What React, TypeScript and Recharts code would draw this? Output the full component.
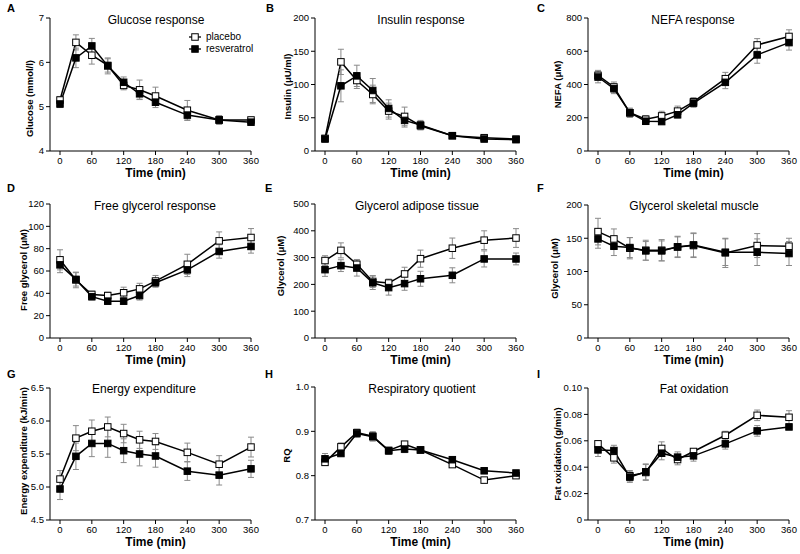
import React from "react";
import { ErrorBar, Label, Legend, Line, LineChart, XAxis, YAxis } from "recharts";

const TIMES = [0, 30, 60, 90, 120, 150, 180, 240, 300, 360];
const TIME_TICKS = [0, 60, 120, 180, 240, 300, 360];

// A – glucose (mmol/l)
const glucosePlacebo = [5.15, 6.45, 6.16, 5.93, 5.48, 5.38, 5.24, 4.92, 4.7, 4.7];
const glucosePlaceboSem = [0.08, 0.17, 0.2, 0.15, 0.1, 0.22, 0.2, 0.22, 0.08, 0.06];
const glucoseResveratrol = [5.06, 6.1, 6.37, 5.92, 5.55, 5.29, 5.1, 4.81, 4.7, 4.65];
const glucoseResveratrolSem = [0.08, 0.22, 0.17, 0.18, 0.12, 0.12, 0.12, 0.12, 0.1, 0.06];

// B – insulin (µU/ml)
const insulinPlacebo = [19, 134, 106, 85, 60, 52, 38, 23, 20, 18];
const insulinPlaceboSem = [3, 19, 12, 14, 12, 14, 6, 3, 3, 3];
const insulinResveratrol = [18, 98, 113, 91, 64, 46, 39, 23, 18, 17];
const insulinResveratrolSem = [3, 24, 16, 18, 13, 10, 7, 3, 3, 3];

// C – NEFA (µM)
const nefaPlacebo = [455, 385, 230, 191, 211, 240, 296, 435, 638, 689];
const nefaPlaceboSem = [30, 30, 28, 22, 28, 30, 25, 38, 38, 40];
const nefaResveratrol = [445, 375, 230, 179, 177, 218, 288, 413, 578, 652];
const nefaResveratrolSem = [35, 30, 25, 20, 15, 20, 25, 38, 50, 45];

// D – free glycerol (µM)
const freeGlycerolPlacebo = [70, 52, 39, 38, 40.5, 44, 51, 66, 87, 90];
const freeGlycerolPlaceboSem = [9, 7, 3, 3, 5, 5, 5, 9, 8, 8];
const freeGlycerolResveratrol = [65.5, 52.5, 37, 33, 33, 38, 49.5, 61, 77.5, 82];
const freeGlycerolResveratrolSem = [7, 6, 3, 3, 3, 4, 4, 6, 6, 6];

// E – glycerol adipose tissue (µM)
const adiposePlacebo = [289, 327, 275, 211, 205, 239, 296, 335, 365, 373];
const adiposePlaceboSem = [18, 28, 18, 22, 15, 25, 32, 38, 35, 35];
const adiposeResveratrol = [255, 270, 261, 206, 188, 203, 221, 234, 295, 295];
const adiposeResveratrolSem = [25, 22, 30, 25, 28, 25, 28, 28, 30, 22];

// F – glycerol skeletal muscle (µM)
const musclePlacebo = [160, 149, 135, 132, 132, 137, 139, 128, 139, 138];
const musclePlaceboSem = [20, 15, 16, 15, 16, 16, 18, 22, 18, 12];
const muscleResveratrol = [149, 138, 136, 131, 131, 137, 140, 129, 129, 127];
const muscleResveratrolSem = [14, 14, 15, 14, 15, 15, 18, 20, 20, 18];

// G – energy expenditure (kJ/min)
const energyPlacebo = [5.12, 5.74, 5.845, 5.91, 5.81, 5.715, 5.69, 5.525, 5.345, 5.605];
const energyPlaceboSem = [0.13, 0.19, 0.17, 0.15, 0.14, 0.13, 0.12, 0.14, 0.13, 0.15];
const energyResveratrol = [4.97, 5.465, 5.66, 5.66, 5.55, 5.5, 5.47, 5.24, 5.18, 5.275];
const energyResveratrolSem = [0.16, 0.2, 0.2, 0.21, 0.18, 0.18, 0.17, 0.14, 0.15, 0.13];

// H – respiratory quotient
const rqPlacebo = [0.83, 0.865, 0.897, 0.889, 0.857, 0.871, 0.858, 0.825, 0.79, 0.8];
const rqPlaceboSem = [0.007, 0.009, 0.008, 0.01, 0.006, 0.005, 0.004, 0.005, 0.004, 0.006];
const rqResveratrol = [0.838, 0.85, 0.895, 0.888, 0.856, 0.86, 0.858, 0.836, 0.811, 0.806];
const rqResveratrolSem = [0.012, 0.005, 0.008, 0.01, 0.008, 0.008, 0.004, 0.006, 0.006, 0.004];

// I – fat oxidation (g/min)
const fatPlacebo = [0.0577, 0.0471, 0.0335, 0.036, 0.0542, 0.0458, 0.0519, 0.0642, 0.0793, 0.0778];
const fatPlaceboSem = [0.002, 0.004, 0.004, 0.006, 0.005, 0.004, 0.002, 0.003, 0.004, 0.005];
const fatResveratrol = [0.0531, 0.0526, 0.0325, 0.0365, 0.0506, 0.0476, 0.0486, 0.0577, 0.0675, 0.0705];
const fatResveratrolSem = [0.005, 0.004, 0.004, 0.006, 0.005, 0.004, 0.004, 0.004, 0.004, 0.002];

const SERIES = [
  { key: "placebo", name: "placebo", fill: "#ffffff" },
  { key: "resveratrol", name: "resveratrol", fill: "#000000" },
];

const FONT = '"Liberation Sans", Arial, Helvetica, sans-serif';
const ERR_COLOR = "#8a8a8a";

const Y_W = 45;
const M_TOP = 12;
const M_RIGHT = 12;
const X_H = 32;
const PLOT_W = 201;
const PAD = 10;
const DOT = 6.5;

type Panel = {
  letter: string;
  title: string;
  yLabel: string;
  domain: [number, number];
  ticks: number[];
  fmt: (v: number) => string;
  placebo: number[];
  placeboSem: number[];
  resveratrol: number[];
  resveratrolSem: number[];
  axisX: number;
  plotTop: number;
  plotH: number;
  titleX: number;
  titleY: number;
  letterX: number;
  letterY: number;
  labelOffset: number;
  labelShift: number;
  legend?: boolean;
};

const int = (v: number) => String(v);
const oneDec = (v: number) => v.toFixed(1);
const twoDec = (v: number) => (v === 0 ? "0" : v.toFixed(2));

const PANELS: Panel[] = [
  {
    letter: "A", title: "Glucose response", yLabel: "Glucose (mmol/l)",
    domain: [4, 7], ticks: [4, 5, 6, 7], fmt: int,
    placebo: glucosePlacebo, placeboSem: glucosePlaceboSem,
    resveratrol: glucoseResveratrol, resveratrolSem: glucoseResveratrolSem,
    axisX: 50, plotTop: 18, plotH: 133, titleX: 156, titleY: 23.5,
    letterX: 7, letterY: 12, labelOffset: 21, labelShift: 14, legend: true,
  },
  {
    letter: "B", title: "Insulin response", yLabel: "Insulin (μU/ml)",
    domain: [0, 200], ticks: [0, 50, 100, 150, 200], fmt: int,
    placebo: insulinPlacebo, placeboSem: insulinPlaceboSem,
    resveratrol: insulinResveratrol, resveratrolSem: insulinResveratrolSem,
    axisX: 315, plotTop: 18, plotH: 133, titleX: 421, titleY: 23.5,
    letterX: 266, letterY: 12, labelOffset: 28, labelShift: 2,
  },
  {
    letter: "C", title: "NEFA response", yLabel: "NEFA (μM)",
    domain: [0, 800], ticks: [0, 200, 400, 600, 800], fmt: int,
    placebo: nefaPlacebo, placeboSem: nefaPlaceboSem,
    resveratrol: nefaResveratrol, resveratrolSem: nefaResveratrolSem,
    axisX: 588, plotTop: 18, plotH: 133, titleX: 693, titleY: 23.5,
    letterX: 537, letterY: 12, labelOffset: 31, labelShift: 0,
  },
  {
    letter: "D", title: "Free glycerol response", yLabel: "Free glycerol (μM)",
    domain: [0, 120], ticks: [0, 20, 40, 60, 80, 100, 120], fmt: int,
    placebo: freeGlycerolPlacebo, placeboSem: freeGlycerolPlaceboSem,
    resveratrol: freeGlycerolResveratrol, resveratrolSem: freeGlycerolResveratrolSem,
    axisX: 50, plotTop: 204, plotH: 134, titleX: 155, titleY: 209.5,
    letterX: 7, letterY: 192, labelOffset: 27, labelShift: -1,
  },
  {
    letter: "E", title: "Glycerol adipose tissue", yLabel: "Glycerol (μM)",
    domain: [0, 500], ticks: [0, 100, 200, 300, 400, 500], fmt: int,
    placebo: adiposePlacebo, placeboSem: adiposePlaceboSem,
    resveratrol: adiposeResveratrol, resveratrolSem: adiposeResveratrolSem,
    axisX: 315, plotTop: 204, plotH: 134, titleX: 417, titleY: 209.5,
    letterX: 265, letterY: 192, labelOffset: 35, labelShift: -5,
  },
  {
    letter: "F", title: "Glycerol skeletal muscle", yLabel: "Glycerol (μM)",
    domain: [0, 200], ticks: [0, 50, 100, 150, 200], fmt: int,
    placebo: musclePlacebo, placeboSem: musclePlaceboSem,
    resveratrol: muscleResveratrol, resveratrolSem: muscleResveratrolSem,
    axisX: 588, plotTop: 205, plotH: 133, titleX: 694, titleY: 209.5,
    letterX: 537, letterY: 192, labelOffset: 34, labelShift: -3,
  },
  {
    letter: "G", title: "Energy expenditure", yLabel: "Energy expenditure (kJ/min)",
    domain: [4.5, 6.5], ticks: [4.5, 5, 5.5, 6, 6.5], fmt: oneDec,
    placebo: energyPlacebo, placeboSem: energyPlaceboSem,
    resveratrol: energyResveratrol, resveratrolSem: energyResveratrolSem,
    axisX: 50, plotTop: 388, plotH: 132, titleX: 144, titleY: 392.5,
    letterX: 7, letterY: 378, labelOffset: 27, labelShift: -3,
  },
  {
    letter: "H", title: "Respiratory quotient", yLabel: "RQ",
    domain: [0.7, 1.0], ticks: [0.7, 0.8, 0.9, 1.0], fmt: oneDec,
    placebo: rqPlacebo, placeboSem: rqPlaceboSem,
    resveratrol: rqResveratrol, resveratrolSem: rqResveratrolSem,
    axisX: 315, plotTop: 387, plotH: 133, titleX: 422, titleY: 392.5,
    letterX: 265, letterY: 378, labelOffset: 29, labelShift: 2,
  },
  {
    letter: "I", title: "Fat oxidation", yLabel: "Fat oxidation (g/min)",
    domain: [0, 0.1], ticks: [0, 0.02, 0.04, 0.06, 0.08, 0.1], fmt: twoDec,
    placebo: fatPlacebo, placeboSem: fatPlaceboSem,
    resveratrol: fatResveratrol, resveratrolSem: fatResveratrolSem,
    axisX: 588, plotTop: 388, plotH: 132, titleX: 694, titleY: 392.5,
    letterX: 537, letterY: 378, labelOffset: 31, labelShift: 0,
  },
];

function squareDot(fill: string) {
  return (props: any) => {
    const { cx, cy, index } = props;
    if (cx == null || cy == null) return <g key={`e-${index}`} />;
    return (
      <rect
        key={`d-${index}`}
        x={cx - DOT / 2}
        y={cy - DOT / 2}
        width={DOT}
        height={DOT}
        fill={fill}
        stroke="#000"
        strokeWidth={1}
      />
    );
  };
}

function yLabelFor(p: Panel) {
  return (props: any) => {
    const vb = props.viewBox || { x: 0, y: 0, width: Y_W, height: p.plotH };
    const x = vb.x + vb.width - p.labelOffset;
    const y = vb.y + vb.height / 2 + p.labelShift;
    return (
      <text
        x={x}
        y={y}
        transform={`rotate(-90, ${x}, ${y})`}
        textAnchor="middle"
        dominantBaseline="central"
        fontSize={9.5}
        fontWeight="bold"
        fill="#000"
      >
        {p.yLabel}
      </text>
    );
  };
}

function timeLabel(props: any) {
  const vb = props.viewBox || { x: Y_W, y: 0, width: PLOT_W, height: X_H };
  const x = vb.x + PAD + (vb.width - PAD) / 2;
  const y = vb.y + 22;
  return (
    <text x={x} y={y} textAnchor="middle" dominantBaseline="central" fontSize={12} fontWeight="bold" fill="#000">
      Time (min)
    </text>
  );
}

function renderLegend() {
  return (
    <div style={{ fontSize: 10, lineHeight: "12px", color: "#000", fontFamily: FONT }}>
      {SERIES.map((s) => (
        <div key={s.key} style={{ display: "flex", alignItems: "center" }}>
          <svg width={13} height={12}>
            <line x1={0} x2={12} y1={6} y2={6} stroke="#000" strokeWidth={1.3} />
            <rect x={2.75} y={2.75} width={DOT} height={DOT} fill={s.fill} stroke="#000" />
          </svg>
          <span style={{ marginLeft: 4 }}>{s.name}</span>
        </div>
      ))}
    </div>
  );
}

function PanelChart({ p }: { p: Panel }) {
  const data = TIMES.map((t, i) => ({
    time: t,
    placebo: p.placebo[i],
    placeboSem: p.placeboSem[i],
    resveratrol: p.resveratrol[i],
    resveratrolSem: p.resveratrolSem[i],
  }));
  const width = Y_W + PLOT_W + M_RIGHT;
  const height = M_TOP + p.plotH + X_H + 2;
  const boxLeft = p.axisX - Y_W;
  const boxTop = p.plotTop - M_TOP;

  return (
    <div style={{ position: "absolute", left: boxLeft, top: boxTop }}>
      <LineChart width={width} height={height} data={data} margin={{ top: M_TOP, right: M_RIGHT, bottom: 2, left: 0 }}>
        <XAxis
          dataKey="time"
          type="number"
          domain={[0, 360]}
          ticks={TIME_TICKS}
          interval={0}
          padding={{ left: PAD, right: 0 }}
          height={X_H}
          tickSize={4}
          tickMargin={2}
          stroke="#000"
          tick={{ fontSize: 9.5, fill: "#000" }}
        >
          <Label content={timeLabel} />
        </XAxis>
        <YAxis
          type="number"
          domain={p.domain}
          ticks={p.ticks}
          interval={0}
          tickFormatter={p.fmt}
          width={Y_W}
          tickSize={4}
          tickMargin={2}
          stroke="#000"
          tick={{ fontSize: 9.5, fill: "#000" }}
        >
          <Label content={yLabelFor(p)} />
        </YAxis>
        {SERIES.map((s) => (
          <Line
            key={s.key}
            dataKey={s.key}
            name={s.name}
            type="linear"
            stroke="#000"
            strokeWidth={1.5}
            dot={squareDot(s.fill)}
            activeDot={false}
            isAnimationActive={false}
          >
            <ErrorBar dataKey={`${s.key}Sem`} direction="y" width={3} stroke={ERR_COLOR} strokeWidth={1} />
          </Line>
        ))}
        {p.legend && (
          <Legend
            layout="vertical"
            align="center"
            verticalAlign="middle"
            content={renderLegend}
            wrapperStyle={{ left: 189 - boxLeft, top: 31 - boxTop, width: 80 }}
          />
        )}
      </LineChart>
    </div>
  );
}

export default function App() {
  return (
    <div
      style={{
        position: "absolute",
        left: 0,
        top: 0,
        width: 800,
        height: 554,
        background: "#fff",
        fontFamily: FONT,
        overflow: "hidden",
      }}
    >
      {PANELS.map((p) => (
        <PanelChart key={p.letter} p={p} />
      ))}
      <svg width={800} height={554} style={{ position: "absolute", left: 0, top: 0, pointerEvents: "none" }}>
        {PANELS.map((p) => (
          <g key={p.letter}>
            <text x={p.letterX} y={p.letterY} fontSize={11} fontWeight="bold" fill="#000">
              {p.letter}
            </text>
            <text x={p.titleX} y={p.titleY} fontSize={12} textAnchor="middle" fill="#000">
              {p.title}
            </text>
          </g>
        ))}
      </svg>
    </div>
  );
}
